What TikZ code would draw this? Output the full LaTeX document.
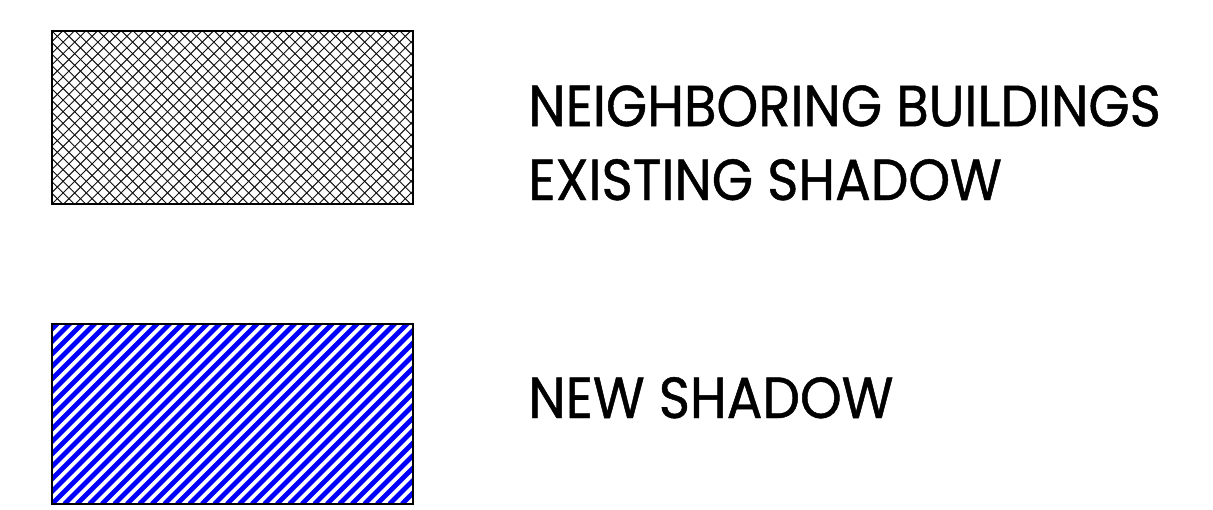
\documentclass[tikz,border=0pt]{standalone}
\usepackage{fontspec}
\newfontfamily\legendfont[FakeStretch=0.915, FakeBold=0.8]{Poppins}
\usetikzlibrary{positioning, calc}
\definecolor{shadowBlue}{HTML}{0000FF}
\definecolor{hatchGray}{HTML}{111111}
\tikzset{
  swatch/.style={rectangle, draw=black, inner sep=0pt,
                 minimum width=7.22cm},
  crossHatch/.style={line width=0.55pt, hatchGray},
  blueStripe/.style={line width=0.095cm, shadowBlue},
  legendText/.style={anchor=base west, inner sep=0pt, align=left,
                     font=\legendfont\fontsize{33}{42}\selectfont},
}

\begin{document}
\begin{tikzpicture}
  \useasboundingbox (0,0) rectangle (24.26,-10.18);
  % existing shadow swatch (cross hatch)
  \node[swatch, line width=0.9pt, minimum height=3.46cm,
        path picture={
          \foreach \k in {-16,...,32}{
            \draw[crossHatch] ($(path picture bounding box.south west)+(\k*0.232,0)$) -- ++(3.6,3.6);
            \draw[crossHatch] ($(path picture bounding box.north west)+(\k*0.232,0)$) -- ++(3.6,-3.6);
          }
        }] (swatchOld) at (4.65,-2.35) {};
  % new shadow swatch (blue stripes)
  \node[swatch, line width=1.3pt, minimum height=3.6cm,
        path picture={
          \foreach \k in {-16,...,30}{
            \draw[blueStripe] ($(path picture bounding box.south west)+(\k*0.25,0)$) -- ++(3.8,3.8);
          }
        }] (swatchNew) at (4.65,-8.28) {};
  \node[legendText] (labelOld) at (10.56,-4.00) {NEIGHBORING BUILDINGS\\EXISTING SHADOW};
  \node[legendText] (labelNew) at (10.56,-8.36) {NEW SHADOW};
\end{tikzpicture}
\end{document}
